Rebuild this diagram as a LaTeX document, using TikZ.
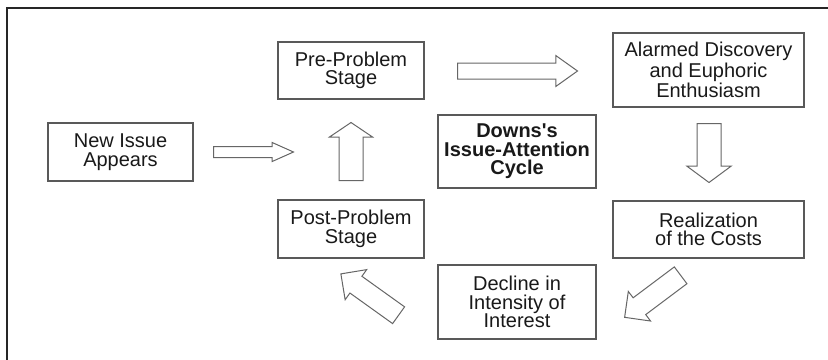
\documentclass[tikz,border=0pt]{standalone}
\usepackage{fontspec}
\setmainfont{Liberation Sans}
\usetikzlibrary{shapes.arrows}
\tikzset{x=0.5pt,y=-0.5pt,
	stage/.style={
		draw=black!65,
		line width=0.7pt,
		align=center,
		inner sep=0pt,
		font=\fontsize{10}{9.2}\selectfont,
		text=black!90
	},
	block/.style={
		single arrow,
		draw=black!60,
		fill=white,
		line width=0.5pt,
		inner xsep=0pt,
		anchor=tail,
		single arrow head indent=0pt
	}
}
\begin{document}
\begin{tikzpicture}
	\useasboundingbox (0,0) rectangle (828,359);
	\draw[line width=1pt, black!85] (7,362) -- (7,8) -- (830,8);
	% the stages
	\node[stage, minimum width=72.5pt, minimum height=29pt] (newissue) at (120.5,152) {New Issue\\Appears};
	\node[stage, minimum width=73pt, minimum height=28.5pt] (pre) at (351,70.5) {Pre-Problem\\Stage};
	\node[stage, minimum width=95.5pt, minimum height=37pt] (alarmed) at (708.5,70) {Alarmed Discovery\\and Euphoric\\Enthusiasm};
	\node[stage, minimum width=79pt, minimum height=36.5pt, font=\fontsize{10}{9.2}\selectfont\bfseries] (downs) at (517,151.5) {Downs\textquotesingle s\\Issue-Attention\\Cycle};
	\node[stage, minimum width=73pt, minimum height=29pt] (post) at (351,229) {Post-Problem\\Stage};
	\node[stage, minimum width=95.5pt, minimum height=28.5pt] (costs) at (708.5,229.5) {Realization\\of the Costs};
	\node[stage, minimum width=79pt, minimum height=37pt] (decline) at (517,302) {Decline in\\Intensity of\\Interest};
	% the arrows between them (placed by their tails)
	\node[block, minimum height=40pt, inner ysep=2.5pt, single arrow head extend=2pt, single arrow tip angle=48] (toPre) at (213,152) {};
	\node[block, minimum height=60pt, inner ysep=3.75pt, single arrow head extend=3.75pt, single arrow tip angle=71] (toAlarmed) at (457,71) {};
	\node[block, minimum height=29.5pt, inner ysep=5.75pt, single arrow head extend=5pt, single arrow tip angle=107, rotate=-90] (toCosts) at (709,123) {};
	\node[block, minimum height=35pt, inner ysep=5pt, single arrow head extend=4pt, single arrow tip angle=90, rotate=216.9] (toDecline) at (681,275) {};
	\node[block, minimum height=35.5pt, inner ysep=4.9pt, single arrow head extend=4.1pt, single arrow tip angle=90, rotate=144.4] (toPost) at (399,315.5) {};
	\node[block, minimum height=29pt, inner ysep=5.75pt, single arrow head extend=4.75pt, single arrow tip angle=112, rotate=90] (backPre) at (351,181) {};
\end{tikzpicture}
\end{document}
